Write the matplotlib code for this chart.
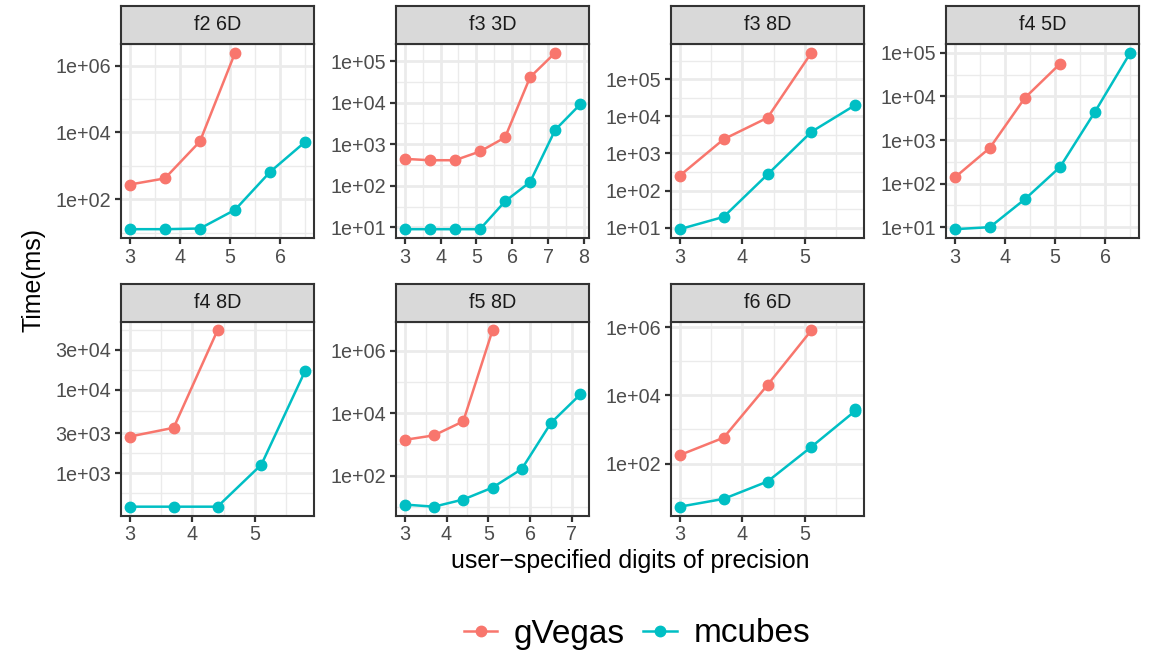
import numpy as np
import matplotlib
matplotlib.use("Agg")
import matplotlib.pyplot as plt
from matplotlib.ticker import FixedLocator, FixedFormatter
from matplotlib.lines import Line2D

plt.rcParams['font.family'] = ['Liberation Sans', 'DejaVu Sans']

# facet titles
panels = ["f2 6D", "f3 3D", "f3 8D", "f4 5D", "f4 8D", "f5 8D", "f6 6D"]

# gVegas series per panel
gvegas_x = [
    [3, 3.7, 4.4, 5.1],
    [3, 3.7, 4.4, 5.1, 5.8, 6.5, 7.2],
    [3, 3.7, 4.4, 5.1],
    [3, 3.7, 4.4, 5.1],
    [3, 3.7, 4.4],
    [3, 3.7, 4.4, 5.1],
    [3, 3.7, 4.4, 5.1],
]
gvegas_y = [
    [275, 420, 5400, 2.45e6],
    [443, 411, 411, 667, 1450, 41000, 158000],
    [251, 2400, 9100, 510000],
    [138, 660, 9300, 56000],
    [2750, 3500, 51000],
    [1400, 1950, 5500, 4.6e6],
    [178, 575, 20000, 800000],
]

# mcubes series per panel
mcubes_x = [
    [3, 3.7, 4.4, 5.1, 5.8, 6.5],
    [3, 3.7, 4.4, 5.1, 5.8, 6.5, 7.2, 7.9],
    [3, 3.7, 4.4, 5.1, 5.8],
    [3, 3.7, 4.4, 5.1, 5.8, 6.5],
    [3, 3.7, 4.4, 5.1, 5.8],
    [3, 3.7, 4.4, 5.1, 5.8, 6.5, 7.2],
    [3, 3.7, 4.4, 5.1, 5.8, 5.8],
]
mcubes_y = [
    [12.6, 12.6, 13.2, 48, 660, 5250],
    [9, 9, 9, 9, 42, 123, 2200, 9100],
    [9.1, 19.5, 270, 3800, 20000],
    [9, 10, 44, 240, 4500, 100000],
    [400, 400, 400, 1270, 16800],
    [11.7, 10, 17, 41, 162, 4900, 40000],
    [5.5, 9.3, 30, 310, 3500, 4100],
]

# axis breaks per panel
y_breaks = [
    [1e2, 1e4, 1e6],
    [1e1, 1e2, 1e3, 1e4, 1e5],
    [1e1, 1e2, 1e3, 1e4, 1e5],
    [1e1, 1e2, 1e3, 1e4, 1e5],
    [1e3, 3e3, 1e4, 3e4],
    [1e2, 1e4, 1e6],
    [1e2, 1e4, 1e6],
]
x_breaks = [
    [3, 4, 5, 6],
    [3, 4, 5, 6, 7, 8],
    [3, 4, 5],
    [3, 4, 5, 6],
    [3, 4, 5],
    [3, 4, 5, 6, 7],
    [3, 4, 5],
]

RED = "#F8766D"
TEAL = "#00BFC4"
DARK = "#333333"

W, H = 1152, 655
fig = plt.figure(figsize=(W / 100, H / 100), dpi=100)
fig.patch.set_facecolor("white")

col_left = [121, 396, 671, 946]
pw = 193
row_top = [44, 321.5]
ph = 194
sh = 38


def minor_between(vals):
    v = list(vals)
    d = v[1] - v[0]
    v = [v[0] - d] + v + [v[-1] + d]
    return [(a + b) / 2 for a, b in zip(v[:-1], v[1:])]


for i, name in enumerate(panels):
    r, c = divmod(i, 4)
    left = col_left[c]
    top = row_top[r]
    ax = fig.add_axes([left / W, 1 - (top + ph) / H, pw / W, ph / H])
    ax.set_yscale("log")

    ax.plot(gvegas_x[i], gvegas_y[i], color=RED, lw=1.8, zorder=3)
    ax.plot(mcubes_x[i], mcubes_y[i], color=TEAL, lw=1.8, zorder=3)
    ax.plot(gvegas_x[i], gvegas_y[i], "o", color=RED, ms=7.5, zorder=4)
    ax.plot(mcubes_x[i], mcubes_y[i], "o", color=TEAL, ms=7.5, zorder=4)

    yb = y_breaks[i]
    ax.yaxis.set_major_locator(FixedLocator(yb))
    ax.yaxis.set_major_formatter(FixedFormatter([f"{v:.0e}" for v in yb]))
    ax.yaxis.set_minor_locator(FixedLocator([10 ** m for m in minor_between(np.log10(yb))]))
    ax.yaxis.set_minor_formatter(FixedFormatter([]))

    xb = x_breaks[i]
    ax.xaxis.set_major_locator(FixedLocator(xb))
    ax.xaxis.set_major_formatter(FixedFormatter([str(v) for v in xb]))
    ax.xaxis.set_minor_locator(FixedLocator(minor_between(xb)))

    ax.grid(which="major", color="#EBEBEB", lw=2.0, zorder=0)
    ax.grid(which="minor", color="#EBEBEB", lw=1.0, zorder=0)
    ax.set_axisbelow(True)
    ax.tick_params(which="major", length=4, width=1.6, color=DARK,
                   labelsize=14.2, labelcolor="#4D4D4D", pad=3)
    ax.tick_params(which="minor", length=0)
    for s in ax.spines.values():
        s.set_color(DARK)
        s.set_linewidth(1.5)

    # facet strip
    sax = fig.add_axes([left / W, 1 - top / H, pw / W, sh / H])
    sax.set_facecolor("#D9D9D9")
    sax.set_xticks([])
    sax.set_yticks([])
    for s in sax.spines.values():
        s.set_color(DARK)
        s.set_linewidth(1.5)
    sax.text(0.5, 0.5, name, ha="center", va="center", fontsize=14.2,
             color="#1A1A1A", transform=sax.transAxes)

fig.text(33 / W, 1 - 280 / H, "Time(ms)", rotation=90, ha="center",
         va="center", fontsize=17.9, color="black")
fig.text(630 / W, 1 - 561 / H, "user\u2212specified digits of precision",
         ha="center", va="center", fontsize=17.9, color="black")

handles = [
    Line2D([], [], color=RED, lw=1.8, marker="o", ms=7.5),
    Line2D([], [], color=TEAL, lw=1.8, marker="o", ms=7.5),
]
fig.legend(handles, ["gVegas", "mcubes"], loc="center", ncol=2,
           bbox_to_anchor=(637 / W, 1 - 634 / H), frameon=False,
           fontsize=24, handlelength=1.0, handletextpad=0.5,
           columnspacing=0.55)

fig.savefig("out.png", dpi=100, facecolor="white")
